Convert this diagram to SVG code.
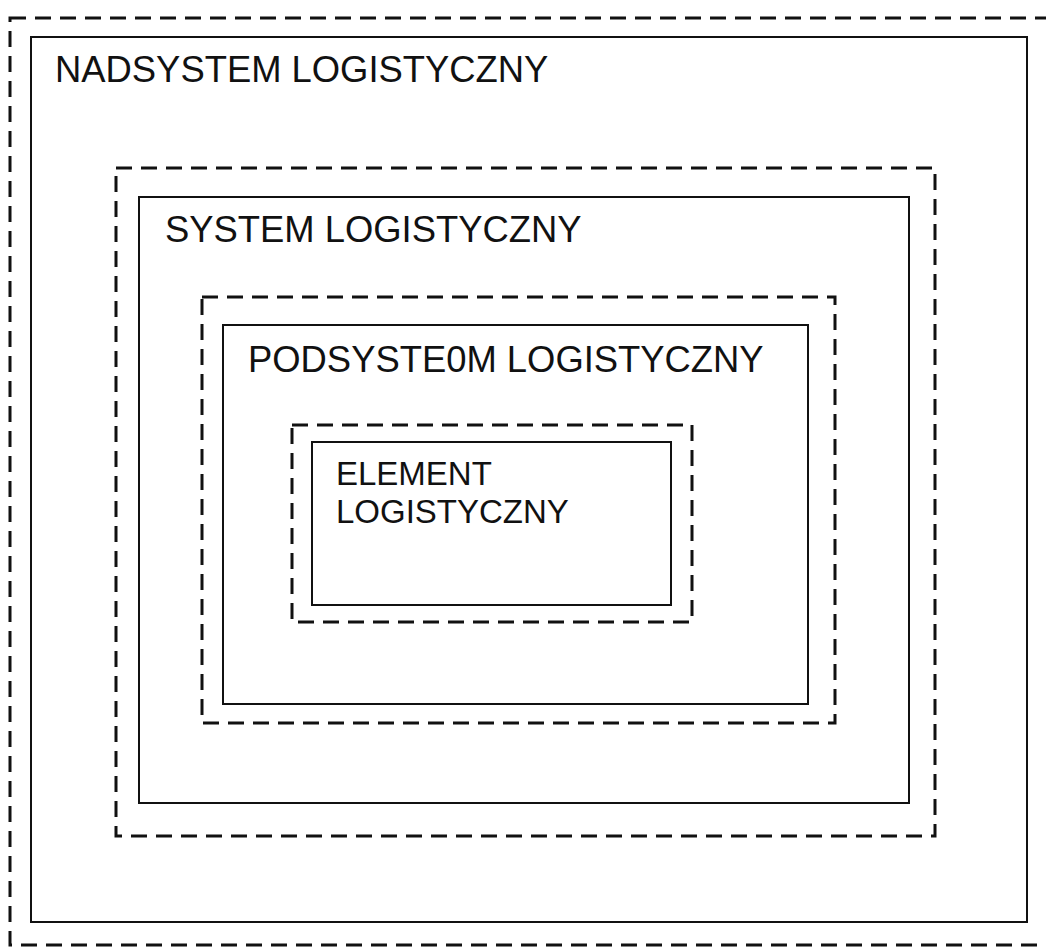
<svg xmlns="http://www.w3.org/2000/svg" width="1046" height="948" viewBox="0 0 1046 948">
<style>
.d{fill:none;stroke:#111;stroke-width:3;stroke-dasharray:16 9}
.s{fill:none;stroke:#111;stroke-width:2}
.t{font-family:"Liberation Sans",Arial,sans-serif;font-size:36.4px;fill:#111}
.e{font-family:"Liberation Sans",Arial,sans-serif;font-size:33px;fill:#111}
</style>
<rect width="1046" height="948" fill="#fff"/>
<g id="nadsystem">
<rect class="d" x="10" y="18" width="1050" height="927"/>
<rect class="s" x="31" y="37" width="996" height="885"/>
<text class="t" x="55" y="82">NADSYSTEM LOGISTYCZNY</text>
</g>
<g id="system">
<rect class="d" x="116" y="168" width="819" height="668"/>
<rect class="s" x="139" y="197" width="770" height="606"/>
<text class="t" x="165" y="242">SYSTEM LOGISTYCZNY</text>
</g>
<g id="podsystem">
<rect class="d" x="202" y="297" width="633" height="426"/>
<rect class="s" x="223" y="325" width="585" height="379"/>
<text class="t" x="248" y="372">PODSYSTE0M LOGISTYCZNY</text>
</g>
<g id="element">
<rect class="d" x="292" y="425" width="400" height="197"/>
<rect class="s" x="312" y="442" width="359" height="163"/>
<text class="e" x="336" y="485">ELEMENT</text>
<text class="e" x="336" y="523">LOGISTYCZNY</text>
</g>
<g id="connectors"></g>
</svg>
